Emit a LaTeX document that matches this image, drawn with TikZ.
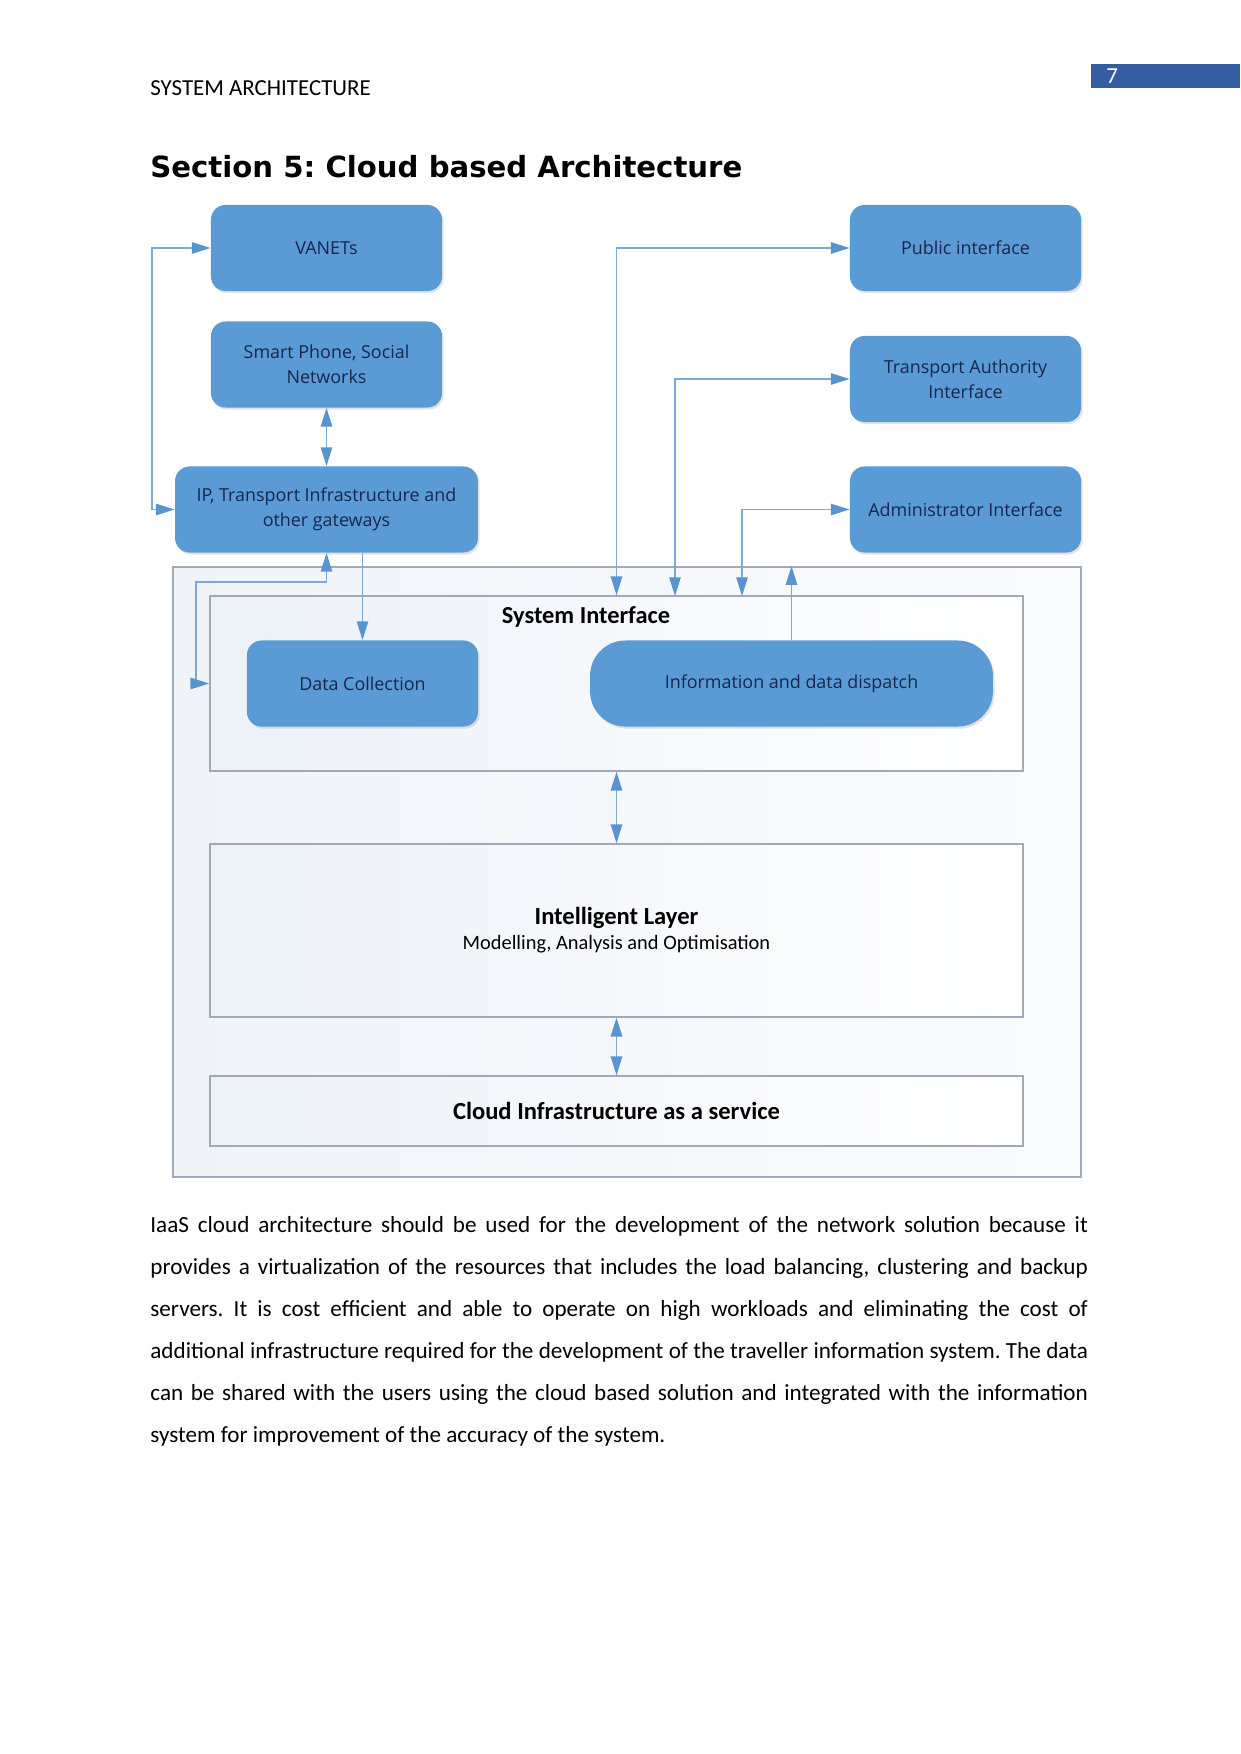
\documentclass[tikz,border=0pt]{standalone}
\usepackage{fontspec}
\setmainfont{Carlito}
\newfontfamily\boxfont{Open Sans}
\newfontfamily\headfont{DejaVu Sans}
\usetikzlibrary{arrows.meta,shadows,calc}
\frenchspacing

\definecolor{boxblue}{RGB}{91,155,213}
\definecolor{boxtext}{RGB}{22,38,75}
\definecolor{linkblue}{RGB}{128,168,212}
\definecolor{tipblue}{RGB}{90,148,208}
\definecolor{framegray}{RGB}{160,170,182}
\definecolor{pagebox}{RGB}{52,92,160}
\definecolor{layerleft}{RGB}{236,241,248}
\definecolor{outerleft}{RGB}{240,244,249}

\begin{document}
\begin{tikzpicture}[x=0.48pt,y=-0.48pt,
  bluebox/.style={fill=boxblue, rounded corners=7pt, inner sep=0pt, align=center,
    font=\boxfont\fontsize{8.6}{11.8}\selectfont, text=boxtext,
    minimum width=110.9pt, minimum height=41.3pt,
    drop shadow={shadow xshift=0.8pt,shadow yshift=-1pt,opacity=0.22}},
  layer/.style={draw=framegray, line width=0.8pt, inner sep=0pt, align=center,
    left color=layerleft, right color=white},
  link/.style={draw=linkblue, line width=0.7pt,
    -{Triangle[length=9pt,width=5.5pt,color=tipblue]}},
  link2/.style={draw=linkblue, line width=0.7pt,
    {Triangle[length=9pt,width=5.5pt,color=tipblue]}-{Triangle[length=9pt,width=5.5pt,color=tipblue]}},
  body/.style={anchor=base west, inner sep=0pt, font=\fontsize{11.1}{14}\selectfont}
]
\useasboundingbox (0,0) rectangle (1241,1754);
\fill[white] (0,0) rectangle (1241,1754);

% page header
\node[anchor=west, inner sep=0pt, font=\fontsize{11}{13}\selectfont] (hdr) at (150,88) {SYSTEM ARCHITECTURE};
\node[anchor=north west, fill=pagebox, inner sep=0pt, minimum width=71.5pt, minimum height=11.5pt] (pgbox) at (1091,64) {};
\node[anchor=west, inner sep=0pt, text=white, font=\fontsize{11}{13}\selectfont] (pgnum) at (1106,76) {7};

% heading
\node[anchor=west, inner sep=0pt, font=\headfont\bfseries\fontsize{14}{17}\selectfont] (head) at (150,167) {Section 5: Cloud based Architecture};

% layers
\node[layer, left color=outerleft, right color={rgb,255:red,250;green,251;blue,253}, minimum width=435.8pt, minimum height=292.8pt] (Outer) at (627,872) {};
\node[layer, minimum width=390.2pt, minimum height=84pt] (SysInt) at (616.5,683.5) {};
\node[layer, minimum width=390.2pt, minimum height=83pt] (Intel) at (616.5,930.5)
  {{\bfseries\fontsize{11.8}{14}\selectfont Intelligent Layer}\\[0pt]{\fontsize{9.8}{12}\selectfont Modelling, Analysis and Optimisation}};
\node[layer, minimum width=390.2pt, minimum height=33.6pt, font=\bfseries\fontsize{11.8}{14}\selectfont] (Cloud) at (616.5,1111) {Cloud Infrastructure as a service};
\node[inner sep=0pt, font=\bfseries\fontsize{11.7}{14}\selectfont] (sititle) at (586,617) {System Interface};

% blue boxes
\node[bluebox] (VANETs) at (326.5,248) {VANETs};
\node[bluebox] (Smart) at (326.5,364.5) {Smart Phone, Social\\Networks};
\node[bluebox, minimum width=145.4pt] (IP) at (326.5,509.5) {IP, Transport Infrastructure and\\other gateways};
\node[bluebox] (Public) at (965.5,248) {Public interface};
\node[bluebox] (Transport) at (965.5,379) {Transport Authority\\Interface};
\node[bluebox] (Admin) at (965.5,509.5) {Administrator Interface};
\node[bluebox] (DataColl) at (362.5,683.5) {Data Collection};
\node[bluebox, minimum width=193.4pt, rounded corners=17pt] (Info) at (791.5,683.5) {Information and data dispatch};

% connectors
\coordinate (bendA) at (152,248);
\coordinate (bendB) at (196,582);
\coordinate (trT) at (675,596);
\coordinate (adT) at (742,596);
\draw[link2] (VANETs.west) -- (bendA) |- (IP.west);
\draw[link2] (Smart.south) -- (IP.north);
\draw[link2] (IP.south) |- (bendB) |- (SysInt.west);
\draw[link] (IP.south -| DataColl.north) -- (DataColl.north);
\draw[link2] (Public.west) -| (SysInt.north);
\draw[link2] (Transport.west) -| (trT);
\draw[link2] (Admin.west) -| (adT);
\draw[link] (Info.north) -- (Info.north |- Outer.north);
\draw[link2] (SysInt.south) -- (Intel.north);
\draw[link2] (Intel.south) -- (Cloud.north);

% body text
\node[body] (b1) at (150,1232) {\makebox[450pt][s]{IaaS cloud architecture should be used for the development of the network solution because it}};
\node[body] (b2) at (150,1274) {\makebox[450pt][s]{provides a virtualization of the resources that includes the load balancing, clustering and backup}};
\node[body] (b3) at (150,1316) {\makebox[450pt][s]{servers. It is cost efficient and able to operate on high workloads and eliminating the cost of}};
\node[body] (b4) at (150,1358) {\makebox[450pt][s]{additional infrastructure required for the development of the traveller information system. The data}};
\node[body] (b5) at (150,1400) {\makebox[450pt][s]{can be shared with the users using the cloud based solution and integrated with the information}};
\node[body] (b6) at (150,1442) {system for improvement of the accuracy of the system.};
\end{tikzpicture}
\end{document}
